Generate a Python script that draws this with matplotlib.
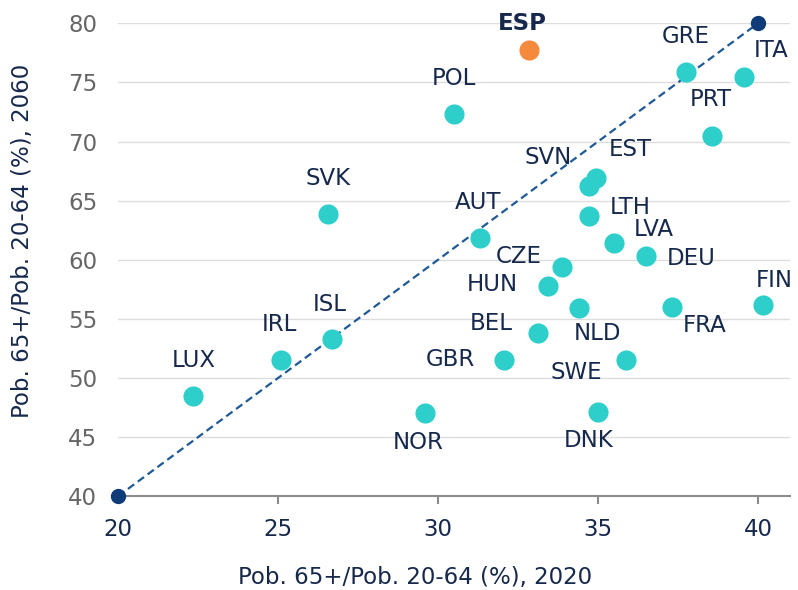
import matplotlib
matplotlib.use('Agg')
import matplotlib.pyplot as plt

plt.rcParams['font.family'] = ['DejaVu Sans']

# datos
countries = ['POL', 'GRE', 'ITA', 'PRT', 'EST', 'SVN', 'LTH', 'SVK', 'AUT', 'LVA', 'DEU',
             'CZE', 'HUN', 'FIN', 'NLD', 'FRA', 'BEL', 'GBR', 'SWE', 'NOR', 'DNK',
             'LUX', 'IRL', 'ISL']
x2020 = [30.5, 37.76, 39.56, 38.57, 34.93, 34.73, 34.73, 26.56, 31.32, 35.51, 36.49,
         33.87, 33.43, 40.14, 34.39, 37.31, 33.11, 32.07, 35.87, 29.58, 34.99,
         22.35, 25.08, 26.67]
y2060 = [72.3, 75.9, 75.5, 70.5, 66.9, 66.2, 63.7, 63.9, 61.8, 61.4, 60.3,
         59.4, 57.8, 56.2, 55.9, 56.0, 53.8, 51.5, 51.5, 47.0, 47.1,
         48.5, 51.5, 53.3]
# desplazamiento de etiquetas (px)
label_dx = [0, -1, 27, -1, 35, -41, 41, 0, -2, 39, 45,
            -43, -55, 12, 19, 33, -46, -54, -50, -6, -9,
            0, -1, -2]
label_dy = [36, 35, 26, 36, 29, 29, 9, 35, 36, 14, -2,
            10, 1, 24, -25, -18, 10, 1, -12, -29, -28,
            35, 36, 34]

esp_x, esp_y = 32.83, 77.7
diag_x = [20, 40]
diag_y = [40, 80]

teal = '#2ECFCB'
orange = '#F58A3C'
navy = '#0D3C78'
txt = '#16294D'
fs = 16.5

fig = plt.figure(figsize=(7.98, 5.90), dpi=100)
ax = fig.add_axes([0.148, 0.159, 0.842, 0.8015])

ax.plot(diag_x, diag_y, color='#1F5A96', lw=1.6, ls=(0, (3.5, 2)), zorder=2)
ax.scatter(diag_x, diag_y, s=100, color=navy, zorder=4, clip_on=False)
ax.scatter(x2020, y2060, s=210, color=teal, zorder=3, linewidths=0)
ax.scatter([esp_x], [esp_y], s=210, color=orange, zorder=3, linewidths=0)

for c, x, y, dx, dy in zip(countries, x2020, y2060, label_dx, label_dy):
    ax.annotate(c, (x, y), xytext=(dx * 0.72, dy * 0.72), textcoords='offset points',
                ha='center', va='center', fontsize=fs, color=txt)
ax.annotate('ESP', (esp_x, esp_y), xytext=(-6 * 0.72, 27 * 0.72), textcoords='offset points',
            ha='center', va='center', fontsize=fs, color=txt, fontweight='bold')

ax.set_xlim(20, 41)
ax.set_ylim(40, 80)
ax.set_xticks([20, 25, 30, 35, 40])
ax.set_yticks([40, 45, 50, 55, 60, 65, 70, 75, 80])

ax.grid(axis='y', color='#DDDDDD', lw=1)
ax.set_axisbelow(True)
for s in ['top', 'right', 'left']:
    ax.spines[s].set_visible(False)
ax.spines['bottom'].set_color('#8C8C8C')
ax.spines['bottom'].set_linewidth(1.5)
ax.spines['bottom'].set_zorder(1)

ax.tick_params(axis='x', colors='#8C8C8C', length=6, width=1.5, labelsize=fs,
               labelcolor=txt, pad=10)
ax.tick_params(axis='y', length=0, labelsize=fs, labelcolor='#666666', pad=15)

ax.set_xlabel('Pob. 65+/Pob. 20-64 (%), 2020', fontsize=fs, color=txt)
ax.set_ylabel('Pob. 65+/Pob. 20-64 (%), 2060', fontsize=fs, color=txt)
ax.xaxis.set_label_coords(0.442, -0.148)
ax.yaxis.set_label_coords(-0.125, 0.54)

fig.savefig('out.png', dpi=100)
